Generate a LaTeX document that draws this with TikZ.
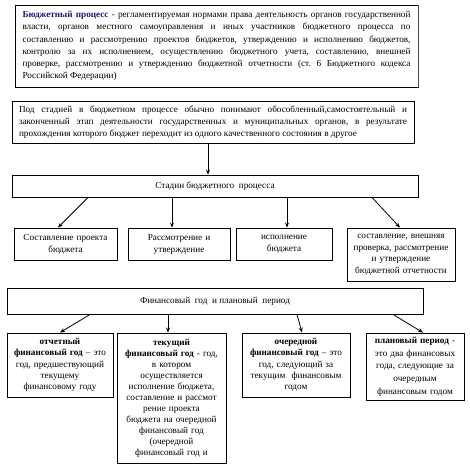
\documentclass[tikz,border=0pt]{standalone}
\usepackage{fontspec}
\setmainfont{Liberation Serif}
\usetikzlibrary{arrows.meta}
\definecolor{bblue}{RGB}{25,25,120}
\frenchspacing
\newcommand\jl[1]{\hbox to 388pt{\spaceskip=0.25em plus 2em\relax\xspaceskip=0.25em plus 2em\relax #1}}
\begin{document}
\begin{tikzpicture}[x=1pt,y=-1pt,
  box/.style={draw,line width=0.9pt,inner xsep=2pt,inner ysep=1pt,align=center},
  arr/.style={line width=0.8pt,-{Stealth[length=5pt,width=4pt]}},
  f9/.style={font=\fontsize{9.2}{12}\selectfont}]
\useasboundingbox (0,0) rectangle (470,467);

\node[box,minimum width=403,minimum height=82,inner xsep=7.5pt,
  font=\fontsize{9.2}{12.2}\selectfont] (b1) at (216.5,46) {%
\vbox{\baselineskip=12.2pt
\jl{\textcolor{bblue}{\textbf{Бюджетный процесс}} - регламентируемая нормами права деятельность органов государственной}
\jl{власти, органов местного самоуправления и иных участников бюджетного процесса по}
\jl{составлению и рассмотрению проектов бюджетов, утверждению и исполнению бюджетов,}
\jl{контролю за их исполнением, осуществлению бюджетного учета, составлению, внешней}
\jl{проверке, рассмотрению и утверждению бюджетной отчетности (ст. 6 Бюджетного кодекса}
\hbox to 388pt{Российской Федерации)\hfil}}};
\draw[line width=1.6pt,black!70] (b1.north east) -- (b1.south east);

\node[box,minimum width=402,minimum height=42,inner xsep=7pt,
  font=\fontsize{9.2}{11.7}\selectfont] (b2) at (213,122) {%
\vbox{\baselineskip=11.7pt
\jl{Под стадией в бюджетном процессе обычно понимают обособленный,самостоятельный и}
\jl{законченный этап деятельности государственных и муниципальных органов, в результате}
\hbox to 388pt{прохождения которого бюджет переходит из одного качественного состояния в другое\hfil}}};

\node[box,f9,minimum width=406,minimum height=22] (b3) at (215,186) {Стадии бюджетного\ \ процесса};

\node[box,f9,minimum width=103,minimum height=32,text width=97] (sa) at (65.5,244) {Составление проекта\\бюджета};
\node[box,f9,minimum width=102,minimum height=32,text width=96] (sb) at (179,244) {Рассмотрение и\\утверждение};
\node[box,f9,minimum width=96,minimum height=32,text width=90] (sc) at (284,244) {исполнение\\бюджета};
\node[box,minimum width=108,minimum height=53,text width=102,
  font=\fontsize{9.2}{11.5}\selectfont] (sd) at (401,254.5) {составление, внешняя\\проверка, рассмотрение\\и утверждение\\бюджетной отчетности};

\node[box,f9,minimum width=416,minimum height=26] (fy) at (215,301) {Финансовый\ \ год\ \ и плановый\ \ период};

\node[box,minimum width=106,minimum height=64,text width=102,
  font=\fontsize{9.2}{11.3}\selectfont] (e) at (60,365) {\textbf{отчетный}\\\textbf{финансовый год} – это\\год, предшествующий\\текущему\\финансовому году};
\node[box,minimum width=109,minimum height=130,text width=105,
  font=\fontsize{9.2}{11}\selectfont] (f) at (171.5,398) {\textbf{текущий}\\\textbf{финансовый год} - год,\\в котором\\осуществляется\\исполнение бюджета,\\составление и рассмот\\рение проекта\\бюджета на очередной\\финансовый год\\(очередной\\финансовый год и};
\node[box,minimum width=108,minimum height=64,text width=104,
  font=\fontsize{9.2}{11.3}\selectfont] (g) at (296,365) {\textbf{очередной}\\\textbf{финансовый год} – это\\год, следующий за\\текущим\ \ финансовым\\годом};
\node[box,minimum width=98,minimum height=67,text width=94,
  font=\fontsize{9.2}{12.7}\selectfont] (h) at (415,366.5) {\textbf{плановый период} -\\это два финансовых\\года, следующие за\\очередным\\финансовым годом};

\draw[arr] ([xshift=-5pt]b2.south) -- ([xshift=-7pt]b3.north);
\draw[arr] ([xshift=-127pt]b3.south) -- ([xshift=-7.5pt]sa.north);
\draw[arr] ([xshift=-43pt]b3.south) -- ([xshift=-7pt]sb.north);
\draw[arr] ([xshift=72pt]b3.south) -- ([xshift=3pt]sc.north);
\draw[arr] ([xshift=157pt]b3.south) -- ([xshift=-1pt]sd.north);
\draw[arr] ([xshift=-125pt]fy.south) -- (e.north);
\draw[arr] ([xshift=-47pt]fy.south) -- ([xshift=-3.5pt]f.north);
\draw[arr] ([xshift=82pt]fy.south) -- ([xshift=6pt]g.north);
\draw[arr] ([xshift=178pt]fy.south) -- ([xshift=8pt]h.north);
\end{tikzpicture}
\end{document}
